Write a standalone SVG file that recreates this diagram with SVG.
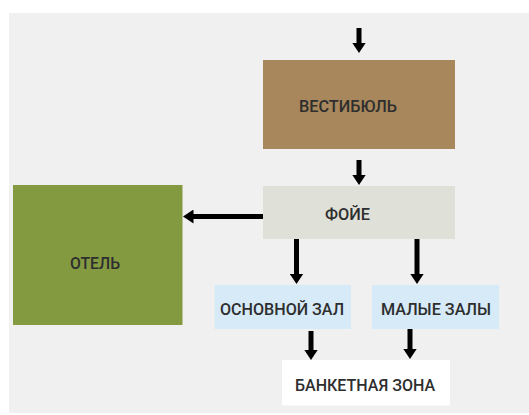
<svg xmlns="http://www.w3.org/2000/svg" width="529" height="415" viewBox="0 0 529 415">
<defs>
<style>
.lbl{font-family:Roboto,"Liberation Sans","DejaVu Sans",sans-serif;font-size:16px;font-weight:500;fill:#2e2e2e;}
.arr{stroke:#000;stroke-width:5;fill:none;marker-end:url(#ah);}
</style>
<marker id="ah" markerUnits="userSpaceOnUse" markerWidth="11" markerHeight="14" refX="0.5" refY="7" orient="auto" viewBox="0 0 11 14">
<path d="M0,0 L10.5,7 L0,14 Z" fill="#000"/>
</marker>
</defs>
<rect x="0" y="0" width="529" height="415" fill="#ffffff"/>
<rect x="9" y="13" width="520" height="400" fill="#f0f0f0"/>
<g id="vestibule">
<rect x="263" y="60" width="192" height="89" fill="#a7875b"/>
<text class="lbl" x="299" y="112" textLength="98" lengthAdjust="spacingAndGlyphs">ВЕСТИБЮЛЬ</text>
</g>
<g id="foyer">
<rect x="263" y="186" width="192" height="53" fill="#dfe0d7"/>
<text class="lbl" x="325" y="219.5" textLength="45" lengthAdjust="spacingAndGlyphs">ФОЙЕ</text>
</g>
<g id="hotel">
<rect x="13" y="185" width="169.5" height="140" fill="#839a41"/>
<text class="lbl" x="70" y="269" textLength="50" lengthAdjust="spacingAndGlyphs">ОТЕЛЬ</text>
</g>
<g id="main-hall">
<rect x="214.5" y="285" width="136.5" height="44" fill="#d6eaf7"/>
<text class="lbl" x="220" y="315" textLength="124" lengthAdjust="spacingAndGlyphs">ОСНОВНОЙ ЗАЛ</text>
</g>
<g id="small-halls">
<rect x="372" y="285" width="127" height="44" fill="#d6eaf7"/>
<text class="lbl" x="381" y="315" textLength="110" lengthAdjust="spacingAndGlyphs">МАЛЫЕ ЗАЛЫ</text>
</g>
<g id="banquet">
<rect x="282" y="360" width="168" height="45.5" fill="#ffffff"/>
<text class="lbl" x="295" y="390.5" textLength="140" lengthAdjust="spacingAndGlyphs">БАНКЕТНАЯ ЗОНА</text>
</g>
<g id="connectors">
<line class="arr" x1="359" y1="28" x2="359" y2="43"/>
<line class="arr" x1="359" y1="160" x2="359" y2="175"/>
<line class="arr" x1="263" y1="216.5" x2="193" y2="216.5"/>
<line class="arr" x1="296.5" y1="239" x2="296.5" y2="274"/>
<line class="arr" x1="417" y1="239" x2="417" y2="274"/>
<line class="arr" x1="311" y1="331" x2="311" y2="350"/>
<line class="arr" x1="410" y1="329" x2="410" y2="349"/>
</g>
</svg>
